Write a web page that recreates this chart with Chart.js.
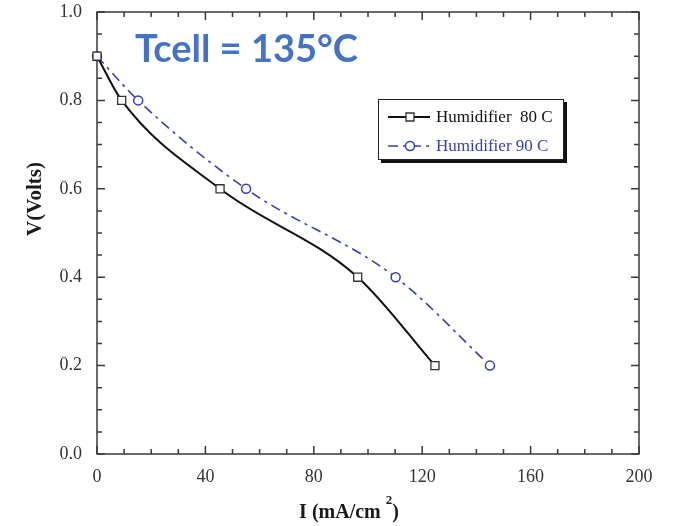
<!DOCTYPE html>
<html lang="en">
<head>
  <meta charset="UTF-8" />
  <title>Tcell = 135°C</title>
  <script src="https://cdn.jsdelivr.net/npm/chart.js"></script>
  <style>
    body {
      margin: 0;
      background: #fff;
    }
    .wrap {
      position: relative;
      width: 652px;
      height: 526px;
      overflow: hidden;
    }
    .tcell {
      position: absolute;
      left: 135px;
      top: 28px;
      font-family: Lato, "Open Sans", sans-serif;
      font-weight: bold;
      font-size: 38px;
      line-height: 1;
      color: #4472c4;
      white-space: nowrap;
    }
  </style>
</head>
<body>
  <div class="wrap">
    <canvas id="polChart" width="674" height="526"></canvas>
    <div class="tcell">Tcell = 135°C</div>
  </div>

  <script>
    // values
    const seriesNames = ["Humidifier  80 C", "Humidifier 90 C"];
    const current80 = [0, 9.1, 45.4, 96.2, 124.7];
    const volts80 = [0.9, 0.8, 0.6, 0.4, 0.2];
    const current90 = [0, 15.2, 55, 110.2, 145];
    const volts90 = [0.9, 0.8, 0.6, 0.4, 0.2];
    const xTicks = [0, 40, 80, 120, 160, 200];
    const yTicks = [0.0, 0.2, 0.4, 0.6, 0.8, 1.0];

    const serif = "'Liberation Serif', 'Times New Roman', serif";

    function toPoints(xs, ys) {
      return xs.map((x, i) => ({ x: x, y: ys[i] }));
    }

    // box around plot with inward ticks on all four sides
    const frameTicks = {
      id: "frameTicks",
      beforeDatasetsDraw(chart) {
        const ctx = chart.ctx;
        const { left, right, top, bottom } = chart.chartArea;
        const xs = chart.scales.x;
        const ys = chart.scales.y;
        ctx.save();
        ctx.strokeStyle = "#3a3a3a";
        ctx.lineWidth = 1.5;
        ctx.strokeRect(left, top, right - left, bottom - top);
        ctx.beginPath();
        for (let k = 0; k <= 20; k++) {
          const px = xs.getPixelForValue(k * 10);
          const len = k % 4 === 0 ? 8 : 5;
          ctx.moveTo(px, bottom);
          ctx.lineTo(px, bottom - len);
          ctx.moveTo(px, top);
          ctx.lineTo(px, top + len);
        }
        for (let k = 0; k <= 20; k++) {
          const py = ys.getPixelForValue(k * 0.05);
          const len = k % 4 === 0 ? 8 : 5;
          ctx.moveTo(left, py);
          ctx.lineTo(left + len, py);
          ctx.moveTo(right, py);
          ctx.lineTo(right - len, py);
        }
        ctx.stroke();
        ctx.restore();
      }
    };

    // axis titles (x one has a raised 2, and both sit off-centre in the original)
    const axisTitles = {
      id: "axisTitles",
      afterDraw(chart) {
        const ctx = chart.ctx;
        ctx.save();
        ctx.fillStyle = "#1a1a1a";
        ctx.textBaseline = "alphabetic";
        ctx.textAlign = "left";
        const big = "bold 20px " + serif;
        const small = "bold 13px " + serif;
        ctx.font = big;
        const w1 = ctx.measureText("I (mA/cm ").width;
        const w3 = ctx.measureText(")").width;
        ctx.font = small;
        const w2 = ctx.measureText("2").width;
        let x = 349 - (w1 + w2 + w3) / 2;
        ctx.font = big;
        ctx.fillText("I (mA/cm ", x, 518);
        ctx.font = small;
        ctx.fillText("2", x + w1, 504);
        ctx.font = big;
        ctx.fillText(")", x + w1 + w2, 518);

        ctx.translate(36, 199);
        ctx.rotate(-Math.PI / 2);
        ctx.textAlign = "center";
        ctx.textBaseline = "middle";
        ctx.font = "bold 21px " + serif;
        ctx.fillText("V(Volts)", 0, 0);
        ctx.restore();
      }
    };

    // boxed legend with drop shadow, inside the plot
    const boxLegend = {
      id: "boxLegend",
      afterDraw(chart) {
        const ctx = chart.ctx;
        const bx = 378, by = 99, bw = 186, bh = 61;
        ctx.save();
        ctx.fillStyle = "#111";
        ctx.fillRect(bx + 3, by + 3, bw, bh);
        ctx.fillStyle = "#fff";
        ctx.fillRect(bx, by, bw, bh);
        ctx.strokeStyle = "#222";
        ctx.lineWidth = 1;
        ctx.strokeRect(bx + 0.5, by + 0.5, bw - 1, bh - 1);

        const rows = [117, 146];
        chart.data.datasets.forEach((ds, i) => {
          const y = rows[i];
          ctx.strokeStyle = ds.borderColor;
          ctx.lineWidth = ds.borderWidth;
          ctx.setLineDash(ds.borderDash || []);
          ctx.beginPath();
          ctx.moveTo(388, y);
          ctx.lineTo(430, y);
          ctx.stroke();
          ctx.setLineDash([]);
          ctx.lineWidth = ds.pointBorderWidth;
          ctx.strokeStyle = ds.pointBorderColor;
          ctx.fillStyle = "#fff";
          ctx.beginPath();
          if (ds.pointStyle === "rect") {
            ctx.rect(406, y - 4, 8, 8);
          } else {
            ctx.arc(410, y, ds.pointRadius, 0, Math.PI * 2);
          }
          ctx.fill();
          ctx.stroke();
          ctx.fillStyle = ds.borderColor;
          ctx.font = "17px " + serif;
          ctx.textBaseline = "middle";
          ctx.fillText(ds.label, 436, y + 1);
        });
        ctx.restore();
      }
    };

    const ctx = document.getElementById("polChart").getContext("2d");
    new Chart(ctx, {
      type: "line",
      data: {
        datasets: [
          {
            label: seriesNames[0],
            data: toPoints(current80, volts80),
            borderColor: "#111",
            borderWidth: 2,
            pointStyle: "rect",
            pointRadius: 5.7,
            pointBorderWidth: 1.3,
            pointBorderColor: "#333",
            pointBackgroundColor: "#fff",
            cubicInterpolationMode: "monotone",
            clip: false
          },
          {
            label: seriesNames[1],
            data: toPoints(current90, volts90),
            borderColor: "#3c3cb0",
            borderWidth: 1.6,
            borderDash: [10, 5, 3, 5],
            pointStyle: "circle",
            pointRadius: 4.5,
            pointBorderWidth: 1.5,
            pointBorderColor: "#3c3cb0",
            pointBackgroundColor: "#fff",
            cubicInterpolationMode: "monotone",
            clip: false
          }
        ]
      },
      options: {
        responsive: false,
        animation: false,
        layout: { padding: { left: 0, right: 35, top: 12, bottom: 0 } },
        plugins: {
          legend: { display: false },
          tooltip: { enabled: false }
        },
        scales: {
          x: {
            type: "linear",
            min: xTicks[0],
            max: xTicks[xTicks.length - 1],
            afterBuildTicks: s => { s.ticks = xTicks.map(v => ({ value: v })); },
            ticks: {
              color: "#333",
              padding: 12,
              font: { family: serif, size: 18 }
            },
            grid: { display: false, drawTicks: false },
            border: { display: false },
            title: { display: false },
            afterFit: s => {
              s.height = 72;
              s.paddingLeft = 0;
              s.paddingRight = 0;
            }
          },
          y: {
            type: "linear",
            min: yTicks[0],
            max: yTicks[yTicks.length - 1],
            afterBuildTicks: s => { s.ticks = yTicks.map(v => ({ value: v })); },
            ticks: {
              color: "#333",
              padding: 15,
              font: { family: serif, size: 18 },
              callback: v => Number(v).toFixed(1)
            },
            grid: { display: false, drawTicks: false },
            border: { display: false },
            title: { display: false },
            afterFit: s => {
              s.width = 97;
              s.paddingTop = 0;
              s.paddingBottom = 0;
            }
          }
        }
      },
      plugins: [frameTicks, axisTitles, boxLegend]
    });
  </script>
</body>
</html>
